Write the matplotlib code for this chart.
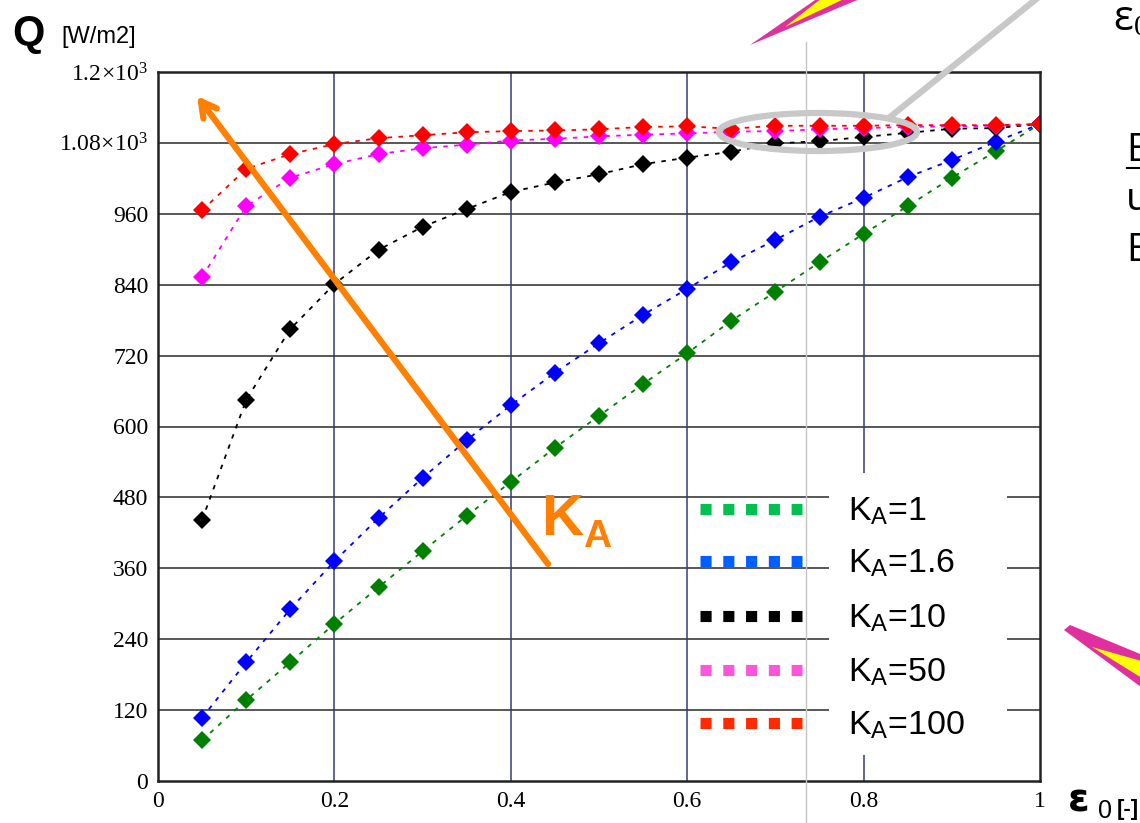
import numpy as np
import matplotlib
import matplotlib.pyplot as plt
from matplotlib.patches import Polygon, Ellipse, Rectangle
from matplotlib.lines import Line2D

plt.rcParams['mathtext.fontset'] = 'custom'
plt.rcParams['mathtext.rm'] = 'Liberation Serif'
plt.rcParams['mathtext.it'] = 'Liberation Serif:italic'
plt.rcParams['mathtext.sf'] = 'Liberation Sans'

# Data ########################################################################

eps0 = [0.05, 0.10, 0.15, 0.20, 0.25, 0.30, 0.35, 0.40, 0.45, 0.50,
        0.55, 0.60, 0.65, 0.70, 0.75, 0.80, 0.85, 0.90, 0.95, 1.00]

q_k1 = [69, 137, 201, 266, 328, 389, 449, 506, 564, 618,
        672, 724, 779, 828, 878, 926, 973, 1021, 1066, 1112]
q_k16 = [107, 201, 291, 372, 445, 513, 577, 636, 691, 741,
         789, 833, 878, 916, 955, 987, 1022, 1051, 1082, 1112]
q_k10 = [442, 645, 765, 841, 899, 938, 968, 997, 1013, 1027,
         1044, 1055, 1065, 1079, 1083, 1090, 1097, 1104, 1105, 1112]
q_k50 = [853, 973, 1021, 1044, 1061, 1071, 1077, 1084, 1087, 1091,
         1094, 1096, 1099, 1100, 1103, 1105, 1107, 1108, 1109, 1112]
q_k100 = [966, 1036, 1061, 1078, 1088, 1093, 1098, 1100, 1101, 1103,
          1107, 1108, 1104, 1109, 1109, 1109, 1110, 1110, 1110, 1112]

series = [q_k1, q_k16, q_k10, q_k50, q_k100]
line_colors = ['#008000', '#0000ff', '#000000', '#ff00ff', '#ff0000']
key_colors = ['#00c050', '#0060ff', '#000000', '#ff55dd', '#ff2a00']
labels = ['1', '1.6', '10', '50', '100']

yticks = [0, 120, 240, 360, 480, 600, 720, 840, 960, 1080, 1200]
ytick_labels = ['0', '120', '240', '360', '480', '600', '720', '840', '960',
                r'$1.08\!\times\!10^{3}$', r'$1.2\!\times\!10^{3}$']
xticks = [0, 0.2, 0.4, 0.6, 0.8, 1.0]
xtick_labels = ['0', '0.2', '0.4', '0.6', '0.8', '1']

# Figure ######################################################################

W, H = 1140, 823
fig = plt.figure(figsize=(W / 100, H / 100), dpi=100)
ax = fig.add_axes([158 / W, 1 - 781 / H, 882 / W, 709 / H])

def px(x, y):
    # figure pixel (from top-left) -> figure fraction
    return (x / W, 1 - y / H)

# grid
for yv in yticks[1:-1]:
    ax.axhline(yv, color='#2a2a2a', lw=1.1, zorder=1)
for xv in xticks[1:-1]:
    ax.axvline(xv, color='#3a3a78', lw=1.1, zorder=1)

for q, c in zip(series, line_colors):
    ax.plot(eps0, q, color=c, lw=1.3, ls=(0, (2.5, 3.5)), marker='D',
            markersize=8.8, markeredgewidth=0, zorder=3)

ax.set_xlim(0, 1)
ax.set_ylim(0, 1200)
ax.set_xticks(xticks)
ax.set_xticklabels(xtick_labels)
ax.set_yticks(yticks)
ax.set_yticklabels(ytick_labels)
ax.tick_params(length=0, labelsize=17, pad=7)
for lab in ax.get_xticklabels() + ax.get_yticklabels():
    lab.set_fontfamily('Liberation Serif')
for s in ax.spines.values():
    s.set_linewidth(1.8)
    s.set_color('#222222')
    s.set_zorder(6)

# legend (drawn by hand, like the original slide)
ax.add_patch(Rectangle((829 / W, 1 - 755 / H), 178 / W, 282 / H,
                       transform=fig.transFigure, facecolor='white',
                       edgecolor='none', zorder=4))
key_rows = [509, 561, 616, 670, 723]
for row, c, lab in zip(key_rows, key_colors, labels):
    fig.add_artist(Line2D([700 / W, 802 / W], [1 - row / H] * 2,
                          color=c, lw=8, ls=(0, (1.0, 1.05)),
                          solid_capstyle='butt', dash_capstyle='butt'))
    fig.text(848 / W, 1 - (row + 2) / H, r'K$_{\mathsf{A}}$=' + lab,
             fontsize=24.5, family='Liberation Sans', va='center', ha='left',
             zorder=5)

# axis titles
fig.text(*px(12, 45), 'Q', fontsize=30, fontweight='bold',
         family='Liberation Sans', va='baseline')
fig.text(*px(61, 43), '[W/m2]', fontsize=17, family='Liberation Sans',
         va='baseline')
fig.text(*px(1068, 812), 'ε', fontsize=28, fontweight='bold',
         family='DejaVu Sans', va='baseline')
fig.text(*px(1098, 818), '0', fontsize=18, family='Liberation Sans',
         va='baseline')
fig.text(*px(1117, 815), '[-]', fontsize=16, fontweight='bold',
         family='Liberation Sans', va='baseline')

# K_A arrow and label
ax.annotate('', xy=px(197, 96), xycoords='figure fraction',
            xytext=px(548, 564), textcoords='figure fraction',
            arrowprops=dict(arrowstyle='->,head_length=1.1,head_width=0.6',
                            color='#ff8000', lw=4.5, shrinkA=0, shrinkB=0),
            zorder=7)
fig.text(*px(541, 535), 'K', fontsize=42, fontweight='bold',
         color='#ff8000', family='Liberation Sans', va='baseline')
fig.text(*px(583, 547), 'A', fontsize=28, fontweight='bold',
         color='#ff8000', family='Liberation Sans', va='baseline')

# slide decorations
fig.add_artist(Line2D([806 / W, 806 / W], [1 - 42 / H, 0], color='#c4c4c4',
                      lw=1.0, zorder=2))
fig.add_artist(Ellipse(px(818, 132), 198 / W, 38 / H, fill=False,
                       edgecolor='#c8c8c8', lw=4.5, zorder=8))
fig.add_artist(Line2D([890 / W, 1040 / W], [1 - 117 / H, 1 + 4 / H],
                      color='#c8c8c8', lw=4.5, zorder=8))
fig.add_artist(Polygon([px(750, 45), px(818, -2), px(862, -2)], closed=True,
                       facecolor='#e030a0', edgecolor='none', zorder=8))
fig.add_artist(Polygon([px(785, 27), px(822, -2), px(846, -2)], closed=True,
                       facecolor='#ffff00', edgecolor='none', zorder=9))
fig.add_artist(Polygon([px(1064, 630), px(1070, 625), px(1145, 656),
                        px(1145, 690)], closed=True,
                       facecolor='#e030a0', edgecolor='none', zorder=8))
fig.add_artist(Polygon([px(1092, 647), px(1145, 662), px(1145, 680)],
                       closed=True, facecolor='#ffff00', edgecolor='none',
                       zorder=9))

# cropped slide text at the right edge (cut off in the original too)
fig.text(*px(1113, 30), 'ε$_0$', fontsize=30, family='Open Sans',
         va='baseline')
fig.text(*px(1126, 161), 'E', fontsize=28, family='Open Sans',
         va='baseline')
fig.add_artist(Line2D([1127 / W, 1145 / W], [1 - 168 / H] * 2,
                      color='black', lw=1.5))
fig.text(*px(1126, 210), 'u', fontsize=28, family='Open Sans',
         va='baseline')
fig.text(*px(1126, 261), 'E', fontsize=28, family='Open Sans',
         va='baseline')

plt.savefig('out.png', dpi=100)
